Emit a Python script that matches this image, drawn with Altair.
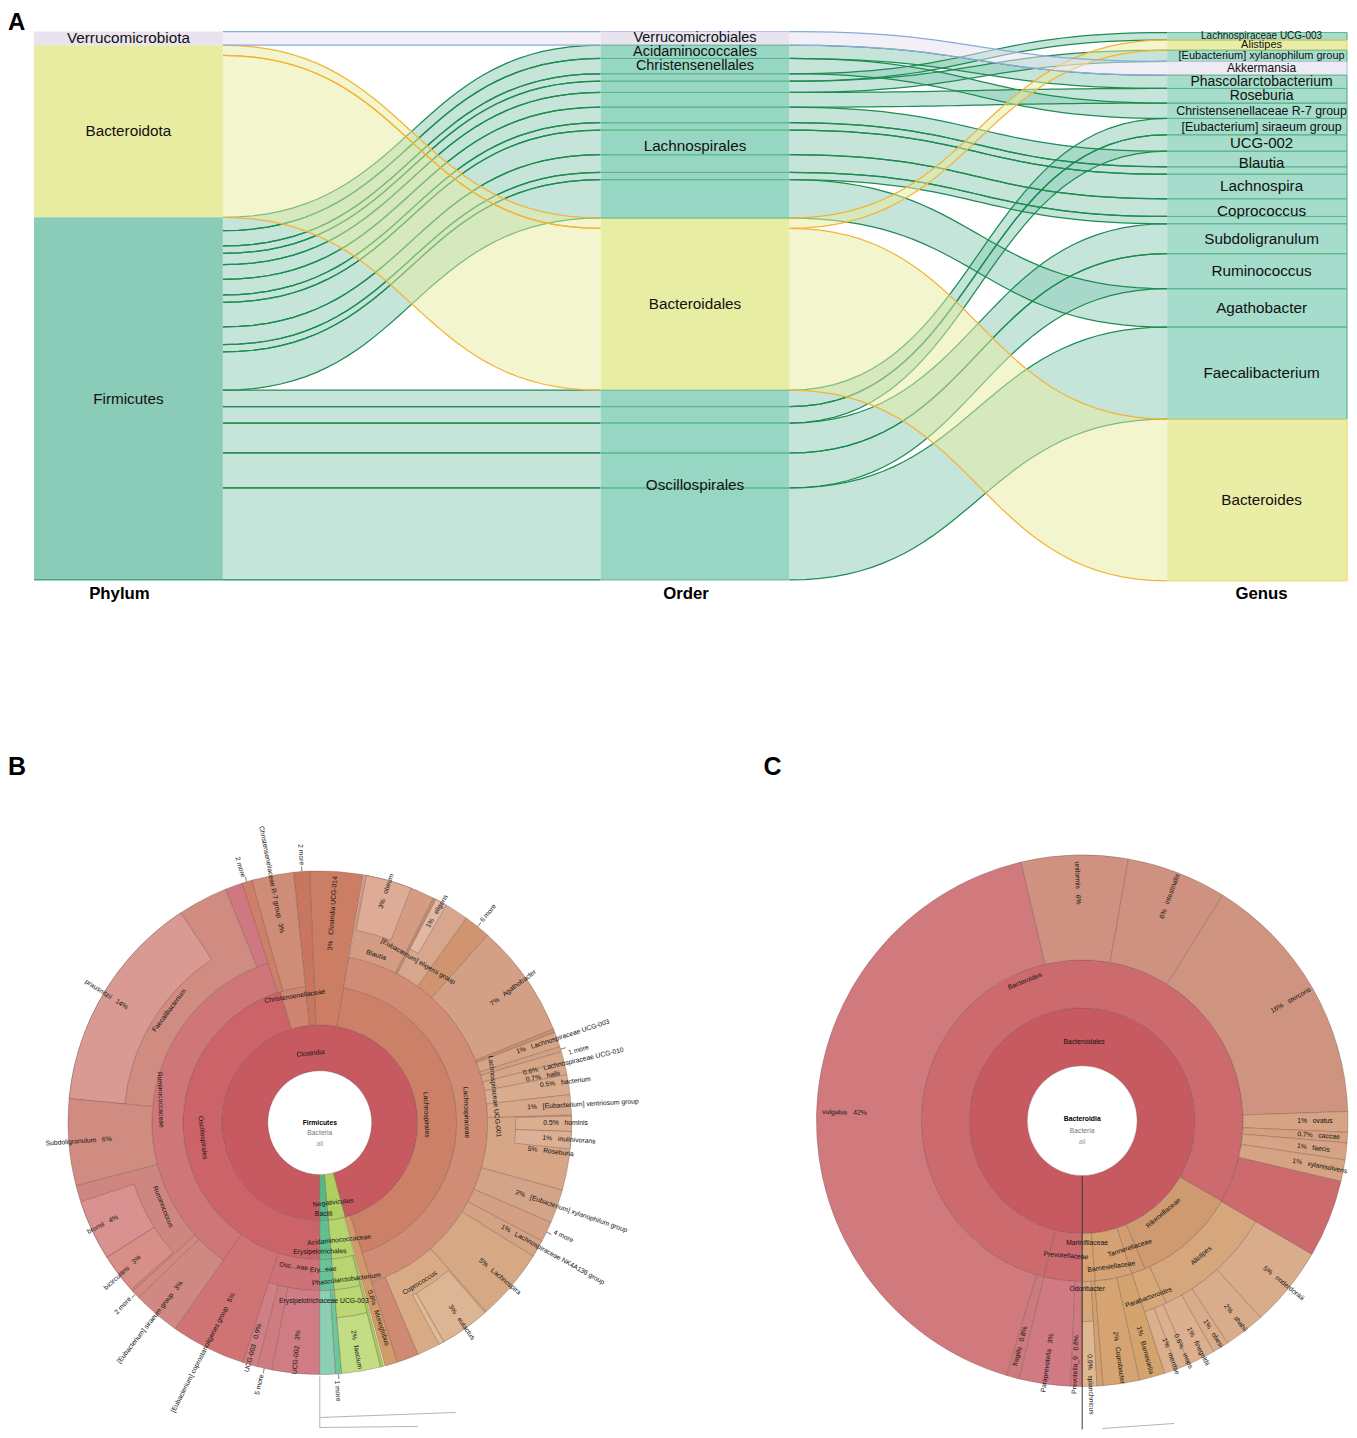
import altair as alt
import pandas as pd
import numpy as np

FONT = "Liberation Sans"

# ---------- Panel A: alluvial (phylum / order / genus, abundance units) ----------
FLOW_PHYLUM = ["Verrucomicrobiota", "Bacteroidota", "Bacteroidota"] + ["Firmicutes"] * 16
FLOW_ORDER = ["Verrucomicrobiales", "Bacteroidales", "Bacteroidales", "Acidaminococcales", "Christensenellales"] + \
             ["Lachnospirales"] * 9 + ["Oscillospirales"] * 5
FLOW_GENUS = ["Akkermansia", "Alistipes", "Bacteroides", "Phascolarctobacterium", "Christensenellaceae R-7 group",
              "Lachnospiraceae UCG-003", "[Eubacterium] xylanophilum group", "Roseburia", "Blautia", "Blautia",
              "Lachnospira", "Coprococcus", "Coprococcus", "Agathobacter",
              "[Eubacterium] siraeum group", "UCG-002", "Subdoligranulum", "Ruminococcus", "Faecalibacterium"]
FLOW_VALUE = [13.7, 10.3, 162.0, 13.3, 15.3, 7.4, 11.3, 14.7, 15.6, 7.4, 24.6, 17.7, 7.3, 38.4,
              16.4, 16.4, 30.0, 35.0, 92.0]
PHYLA = ["Verrucomicrobiota", "Bacteroidota", "Firmicutes"]
ORDERS = ["Verrucomicrobiales", "Acidaminococcales", "Christensenellales", "Lachnospirales", "Bacteroidales",
          "Oscillospirales"]
GENERA = ["Lachnospiraceae UCG-003", "Alistipes", "[Eubacterium] xylanophilum group", "Akkermansia",
          "Phascolarctobacterium", "Roseburia", "Christensenellaceae R-7 group", "[Eubacterium] siraeum group",
          "UCG-002", "Blautia", "Lachnospira", "Coprococcus", "Subdoligranulum", "Ruminococcus", "Agathobacter",
          "Faecalibacterium", "Bacteroides"]
PHYLUM_SIZE = [15.3, 15.3, 15.3]
ORDER_SIZE = [14.5, 14.5, 14.5, 15.3, 15.3, 15.3]
GENUS_SIZE = [10, 11, 11, 12, 14, 14, 12.4, 12.5, 15, 15, 15.3, 15.3, 15.3, 15.3, 15.3, 15.3, 15.3]
STAGES = ["Phylum", "Order", "Genus"]
STAGE_SHIFT = [-9, -9, 0]

KIND_NODE = {"Verrucomicrobiota": "v", "Bacteroidota": "b", "Firmicutes": "f"}
FILL = {"v": ["#e8e3ef", "#e8e3ef", "#eeeaf4"], "b": ["#e8eca0", "#e8eda4", "#e9eda6"], "f": ["#8bccb8", "#97d6c2", "#a5dccb"]}
LINK_FILL = {"v": "#e5e0ee", "b": "#e8eca0", "f": "#8bccb8"}
LINK_STROKE = {"v": "#8aa9dc", "b": "#f5b335", "f": "#1c8c50"}
EDGE = {"v": "#b4c4e4", "b": "#f4d468", "f": "#5cb888"}

flows = pd.DataFrame({"p": FLOW_PHYLUM, "o": FLOW_ORDER, "g": FLOW_GENUS, "v": FLOW_VALUE})
flows["kind"] = flows["p"].map(KIND_NODE)


def stack(col, order, start):
    top, bottom = {}, {}
    cur = start
    for name in order:
        for i in flows.index[flows[col] == name]:
            top[i] = cur
            cur += flows.loc[i, "v"]
            bottom[i] = cur
    return pd.Series(top), pd.Series(bottom)


tops = [stack("p", PHYLA, 0.0), stack("o", ORDERS, 0.0), stack("g", GENERA, 1.0)]
COLS = ["p", "o", "g"]
NODE_W = 1 / 3
GENUS_W = 180 / 567
NODE_WIDTHS = [NODE_W, NODE_W, GENUS_W]

link_rows = []
S = np.linspace(0, 1, 36)
BX = 1.5 * S * (1 - S) + S ** 3
BY = 3 * S ** 2 - 2 * S ** 3
for stage in (0, 1):
    for i in flows.index:
        a0, a1 = tops[stage][0][i], tops[stage][1][i]
        b0, b1 = tops[stage + 1][0][i], tops[stage + 1][1][i]
        for k, (bx, by) in enumerate(zip(BX, BY)):
            link_rows.append({"band": f"{stage}-{i}", "kind": flows.loc[i, "kind"], "k": k,
                              "x": stage + NODE_W + bx * (1 - NODE_W),
                              "y0": a0 + by * (b0 - a0), "y1": a1 + by * (b1 - a1)})
links = pd.DataFrame(link_rows)
edges = links.melt(id_vars=["band", "kind", "k", "x"], value_vars=["y0", "y1"], var_name="edge", value_name="y")
edges["id"] = edges["band"] + edges["edge"]

rect_rows, label_rows, hline_rows, vline_rows = [], [], [], []
for stage, (col, names, sizes) in enumerate(zip(COLS, [PHYLA, ORDERS, GENERA], [PHYLUM_SIZE, ORDER_SIZE, GENUS_SIZE])):
    nw = NODE_WIDTHS[stage]
    for name, size in zip(names, sizes):
        idx = flows.index[flows[col] == name]
        t, b = tops[stage][0][idx].min(), tops[stage][1][idx].max()
        kind = flows.loc[idx[0], "kind"]
        label_rows.append({"text": name, "x": stage + NODE_W / 2, "y": (t + b) / 2, "size": size})
        rect_rows.append({"x": stage, "x2": stage + nw, "y": t, "y2": b, "fill": FILL[kind][stage]})
        if stage == 0:
            if kind == "f":
                hline_rows.append({"x": stage, "x2": stage + nw, "y": b, "c": LINK_STROKE[kind]})
        elif kind != "b" or stage == 2:
            for i in idx:
                for yy in (tops[stage][0][i], tops[stage][1][i]):
                    hline_rows.append({"x": stage, "x2": stage + nw, "y": yy, "c": EDGE[kind]})
        if stage == 2:
            vline_rows.append({"x": stage + nw, "y": t, "y2": b, "c": EDGE[kind]})
rects = pd.DataFrame(rect_rows)
node_labels = pd.DataFrame(label_rows)
hlines = pd.DataFrame(hline_rows)
vlines = pd.DataFrame(vline_rows)

W_A, H_A = 1341, 735
xs_a = alt.Scale(domain=[-26 / 567, (W_A - 26) / 567], range=[0, W_A], nice=False, zero=False)
ys_a = alt.Scale(domain=[712, -23], nice=False, zero=False)
X_A = alt.X("x:Q", scale=xs_a, axis=None)

layers = []
for kind in ["f", "b", "v"]:
    layers.append(alt.Chart(links[links.kind == kind]).mark_area(
        fill=LINK_FILL[kind], fillOpacity=0.5, interpolate="linear"
    ).encode(x=X_A, y=alt.Y("y0:Q", scale=ys_a, axis=None), y2="y1:Q", detail="band:N"))
    layers.append(alt.Chart(edges[edges.kind == kind]).mark_line(
        color=LINK_STROKE[kind], strokeWidth=1.25, interpolate="linear"
    ).encode(x=X_A, y=alt.Y("y:Q", scale=ys_a, axis=None), detail="id:N", order="k:Q"))
layers.append(alt.Chart(rects).mark_rect().encode(
    x=X_A, x2="x2:Q", y=alt.Y("y:Q", scale=ys_a, axis=None), y2="y2:Q", fill=alt.Fill("fill:N", scale=None)))
layers.append(alt.Chart(hlines).mark_rule(strokeWidth=1).encode(
    x=X_A, x2="x2:Q", y=alt.Y("y:Q", scale=ys_a, axis=None), color=alt.Color("c:N", scale=None)))
layers.append(alt.Chart(vlines).mark_rule(strokeWidth=1.2).encode(
    x=X_A, y=alt.Y("y:Q", scale=ys_a, axis=None), y2="y2:Q", color=alt.Color("c:N", scale=None)))
layers.append(alt.Chart(node_labels).mark_text(font=FONT, color="#111").encode(
    x=X_A, y=alt.Y("y:Q", scale=ys_a, axis=None), text="text:N", size=alt.Size("size:Q", scale=None)))
for i, (stage, shift) in enumerate(zip(STAGES, STAGE_SHIFT)):
    layers.append(alt.Chart(pd.DataFrame({"text": [stage], "x": [i + NODE_W / 2], "y": [562.5]})).mark_text(
        font=FONT, fontWeight="bold", fontSize=16.8, color="#000", dx=shift
    ).encode(x=X_A, y=alt.Y("y:Q", scale=ys_a, axis=None), text="text:N"))
layers.append(alt.Chart(pd.DataFrame({"t": ["A"]})).mark_text(
    font=FONT, fontWeight="bold", fontSize=24, align="left", baseline="top"
).encode(x=alt.value(0), y=alt.value(2), text="t:N"))
panel_a = alt.layer(*layers).properties(width=W_A, height=H_A)

# ---------- Panels B and C: Krona charts ----------
RINGS_B = [52, 98, 137, 168, 196, 252]
B_CLASS = [("Clostridia", 180, 525, 0, 1, "#c65a60"), ("Negativicutes", 165, 175, 0, 1, "#aed061"),
           ("Bacilli", 175, 180, 0, 1, "#57b887")]
B_ORDER = [("Oscillospirales", 180, 343.3, 1, 2, "#cb6369"), ("Christensenellales", 343.3, 354, 1, 2, "#cf8470"),
           ("Lachnospirales", 10, 162, 1, 2, "#cc8067"), ("Monoglobus", 162, 165, 1, 5, "#d29a68"),
           ("Acidaminococcales", 165.3, 175, 1, 2, "#b4d46c"), ("Erysipelotrichales", 175, 180, 1, 2, "#62bf90"),
           ("Clostridia UCG-014", 357.7, 370, 1, 5, "#cc7e64"), ("2 more", 354, 357.7, 1, 5, "#c87660")]
B_OSC = [("Christensenellaceae R-7", 344.3, 354, 2, 5, "#cf8c76"), ("2 more", 342, 344.3, 2, 5, "#cd7f68"),
         ("Ruminococcaceae", 215, 342, 2, 3, "#cf7678"), ("strip", 338, 342, 3, 5, "#d07880"),
         ("Oscillospiraceae", 180, 197.7, 2, 3, "#cd7277"), ("coprostanoligenes", 197.7, 215.1, 2, 5, "#cf7375"),
         ("Faecalibacterium", 275.5, 338, 3, 5, "#d08c80"), ("prausnitzii", 275.5, 326.5, 4, 5, "#d89a92"),
         ("Subdoligranulum", 255.5, 275.5, 3, 5, "#d08c80"), ("Ruminococcus", 227.6, 255.5, 3, 5, "#d08680"),
         ("bromii", 237.7, 251.7, 4, 5, "#d99290"), ("bicirculans", 228.5, 237.7, 4, 5, "#d78f88"),
         ("2 more", 226, 228, 3, 5, "#d18a80"), ("siraeum", 215.1, 226, 3, 5, "#d08882"),
         ("UCG-002", 180, 191, 3, 5, "#d07c84"), ("5 more", 191, 194.4, 3, 5, "#cf7c80"),
         ("UCG-003", 194.4, 197.7, 3, 5, "#d08084")]
B_GREEN = [("Erysipelotrichaceae", 175, 180, 2, 3, "#68c498"), ("Erysipelotrichaceae UCG-003", 176.4, 180, 3, 5, "#8ccfb5"),
           ("1 more", 175, 176.4, 3, 5, "#6cc79a"), ("Acidaminococcaceae", 166, 175, 2, 3, "#b8d670"),
           ("Phascolarctobacterium", 166, 175, 3, 4, "#bcd874"), ("faecium", 166, 175, 4, 5, "#c2dd84"),
           ("strip", 165.3, 166, 2, 5, "#a8d050")]
B_LACHNO = [("Lachnospiraceae", 10, 162, 2, 3, "#d08c74"), ("strip", 157, 162, 3, 5, "#cf8a74"),
            ("Coprococcus", 138.6, 157, 3, 5, "#d8ab84"), ("eutactus", 139, 150.5, 4, 5, "#dcb594"),
            ("strip", 150.5, 151.7, 4, 5, "#dfbb98"), ("Lachnospira", 122, 138.6, 3, 5, "#d6a884"),
            ("NK4A136", 118, 122, 3, 5, "#d4a284"), ("4 more", 113.3, 118, 3, 5, "#d59f84"),
            ("xylanophilum", 105.5, 113.3, 3, 5, "#d4a488"), ("Roseburia", 88.2, 105.5, 3, 5, "#d6a686"),
            ("hominis", 88.5, 92, 4, 5, "#dbae90"), ("inulinivorans", 92, 96, 4, 5, "#dcb094"),
            ("strip", 68.1, 69, 3, 5, "#c8906f"), ("UCG-003", 69, 72.4, 3, 5, "#d6a586"),
            ("1 more", 72.4, 73.6, 3, 5, "#d4a084"), ("UCG-010", 73.6, 76, 3, 5, "#d6a586"),
            ("hallii", 76, 79, 3, 5, "#d8a88a"), ("bacterium", 79, 83.6, 3, 5, "#daac8e"),
            ("ventriosum", 83.6, 88.2, 3, 5, "#d8a88a"), ("Agathobacter", 41.8, 68.1, 3, 5, "#d4a085"),
            ("6 more", 35.6, 41.8, 3, 5, "#d09470"), ("eligens group", 27.4, 35.6, 3, 5, "#d8a68c"),
            ("eligens", 27.4, 30.2, 4, 5, "#e0b8a4"), ("strip", 26.8, 27.4, 3, 5, "#c8906f"),
            ("Blautia", 10.2, 26.8, 3, 5, "#d49c82"), ("obeum", 10.7, 21.3, 4, 5, "#deac96")]

B_LABELS = [
    ("Clostridia", 352.4, 70, -6), ("Lachnospirales", 85.7, 107, 88), ("Lachnospiraceae", 86, 147, 88),
    ("Lachnospiraceae UCG-001", 81.5, 177, 84), ("Christensenellaceae", 348.8, 129, -9),
    ("Oscillospirales", 262.7, 118, 84), ("Ruminococcaceae", 278.2, 161, 88), ("Faecalibacterium", 306.7, 188, -53),
    ("Subdoligranulum  6%", 265.6, 242, -4), ("prausnitzii  14%", 301, 249, 33), ("Ruminococcus", 241.8, 178, 68),
    ("bromii  4%", 244.9, 240, -27), ("bicirculans  3%", 232.8, 248, -43), ("2 more", 227.1, 269, -48),
    ("[Eubacterium] siraeum group  3%", 220.4, 262, -52),
    ("[Eubacterium] coprostanoligenes group  5%", 206.9, 258, -63), ("UCG-003  0.9%", 196.5, 235, -75),
    ("5 more", 193, 269, -77), ("UCG-002  3%", 185.8, 231, -85), ("Osc...eae", 190.3, 146, 8),
    ("Ery...eae", 178.7, 147, -3), ("Negativicutes", 170.5, 81, -6), ("Bacilli", 177.5, 91, 0),
    ("Acidaminococcaceae", 170.6, 119, -6), ("Erysipelotrichales", 180, 129, -1),
    ("Phascolarctobacterium", 170.4, 159, -7), ("Erysipelotrichaceae UCG-003", 178.7, 178, 0),
    ("2%  faecium", 170.8, 230, 80), ("1 more", 176.2, 269, 87), ("0.8%  Monoglobus", 163.3, 204, 72),
    ("Coprococcus", 148, 189, -32), ("3%  eutactus", 144.6, 245, 55), ("5%  Lachnospira", 130.5, 237, 40),
    ("1%  Lachnospiraceae NK4A136 group", 119.5, 268, 29), ("4 more", 115, 269, 25),
    ("2%  [Eubacterium] xylanophilum group", 109.4, 267, 19), ("5%  Roseburia", 97.1, 233, 7),
    ("1%  inulinivorans", 93.9, 250, 4), ("0.5%  hominis", 90, 246, 0),
    ("1%  [Eubacterium] ventriosum group", 86, 264, -3), ("0.5%  bacterium", 80.6, 249, -7),
    ("0.7%  hallii", 78.3, 228, -11), ("0.6%  Lachnospiraceae UCG-010", 76.4, 261, -13), ("1 more", 74.3, 269, -16),
    ("1%  Lachnospiraceae UCG-003", 70.5, 258, -18), ("7%  Agathobacter", 55.1, 236, -37), ("6 more", 38.8, 269, -50),
    ("1%  eligens", 29, 242, -60), ("3%  obeum", 16, 241, -72), ("Blautia", 18.6, 177, 18),
    ("[Eubacterium] eligens group", 31.4, 189, 30), ("3%  Clostridia UCG-014", 3.5, 210, -86),
    ("2 more", 342.7, 268, 73), ("Christensenellaceae R-7 group  3%", 348.8, 248, 79), ("2 more", 356, 269, 86),
]
B_TICKS = [343.1, 355.9, 38.8, 73, 115.7, 192.7, 227, 175.7]

RINGS_C = [55, 113, 161, 201, 266]
C_CORE = [("Bacteroidales", 180, 540, 0, 1, "#c65a60"), ("Bacteroidaceae", 193.7, 480, 1, 2, "#cc6a6e"),
          ("Prevotellaceae", 180, 193.7, 1, 2, "#cc6a70"), ("Marinifilaceae", 175.3, 180, 1, 2, "#d6a274"),
          ("Barnesiellaceae", 162, 175.3, 1, 2, "#d6a274"), ("Tannerellaceae", 157, 162, 1, 2, "#d49c72"),
          ("Rikenellaceae", 120, 157, 1, 2, "#d09a70")]
C_BACT = [("vulgatus", 196.5, 346.7, 2, 4, "#d07a7e"), ("uniformis", 346.7, 370, 2, 4, "#cf9280"),
          ("intestinalis", 10, 31.9, 2, 4, "#cf9280"), ("stercoris", 31.9, 88, 2, 4, "#cf9480"),
          ("ovatus", 88, 92.5, 2, 4, "#d6a484"), ("caccae", 92.5, 94.8, 2, 4, "#d4a080"),
          ("faecis", 94.8, 98.5, 2, 4, "#d6a484"), ("xylanisolvens", 98.5, 103.2, 2, 4, "#d6a484"),
          ("strip", 103.2, 120.2, 2, 4, "#cc6a6e"), ("fragilis", 193.7, 196.5, 2, 4, "#cd7a7e"),
          ("Paraprevotella", 182.5, 193.7, 2, 4, "#d07a84"), ("Prevotella_9", 180, 182.5, 2, 4, "#d07a80")]
C_OTHER = [("Odoribacter", 176.8, 180, 2, 3, "#d8a878"), ("splanchnicus", 176.8, 180, 3, 4, "#ddb890"),
           ("strip", 175.5, 176.8, 2, 4, "#d4a070"), ("Coprobacter", 167.5, 175.5, 2, 4, "#d6a472"),
           ("Barnesiella", 161.9, 167.5, 2, 4, "#d4a46f"), ("Parabacteroides", 155.2, 161.9, 2, 3, "#d8a878"),
           ("merdae", 159, 161.9, 3, 4, "#dcb08c"), ("inops", 156.2, 159, 3, 4, "#dcb08c"),
           ("Alistipes", 120.2, 155.2, 2, 3, "#d6a67c"), ("finegoldii", 150.3, 156.2, 3, 4, "#dcb08e"),
           ("obesi", 146.8, 150.3, 3, 4, "#d9ac8a"), ("shahii", 137.8, 146.8, 3, 4, "#d9ac8c"),
           ("onderdonkii", 120.2, 137.8, 3, 4, "#d9ac8c")]
C_LABELS = [
    ("Bacteroidales", 1.4, 79, 0), ("Bacteroides", 337.7, 151, -22), ("vulgatus  42%", 272, 238, 1),
    ("uniformis  6%", 358.9, 238, 88), ("6%  intestinalis", 21.3, 241, -70), ("16%  stercoris", 60, 241, -30),
    ("1%  ovatus", 90, 233, 0), ("0.7%  caccae", 93.6, 237, 4), ("1%  faecis", 96.7, 233, 7),
    ("1%  xylanisolvens", 100.8, 242, 11), ("5%  onderdonkii", 128.9, 259, 39), ("2%  shahii", 142.1, 250, 52),
    ("1%  obesi", 148.4, 250, 58), ("1%  finegoldii", 152.8, 254, 63), ("0.6%  inops", 156.3, 252, 66),
    ("1%  merdae", 159.4, 252, 70), ("1%  Barnesiella", 164.7, 238, 75), ("2%  Coprobacter", 171.2, 240, 82),
    ("0.9%  splanchnicus", 178.2, 264, 88), ("Prevotella_9  0.8%", 181.6, 244, -88),
    ("Paraprevotella  3%", 188.2, 245, -82), ("fragilis  0.8%", 195.4, 234, -75), ("Odoribacter", 178.3, 168, 0),
    ("Parabacteroides", 159.4, 189, -20), ("Alistipes", 138.6, 180, -41), ("Barnesiellaceae", 168.7, 149, -8),
    ("Tannerellaceae", 159.5, 136, -18), ("Rikenellaceae", 138.7, 123, -40), ("Marinifilaceae", 177.7, 122, 0),
    ("Prevotellaceae", 186.8, 136, 4),
]

H_K = 687
B_GUIDES = [("v", 312, 634), ("v", 312, 685), ("a", 312, 675), ("a", 448, 670), ("b", 312, 685), ("b", 410, 684)]
C_GUIDES = [("h", 341, 686), ("h", 413, 681)]
C_AXIS = [("v", 321, 433), ("v", 321, 687)]

theta_scale = alt.Scale(domain=[0, 360], range=[0, 2 * np.pi], nice=False, zero=False)
radius_scale = alt.Scale(type="linear", domain=[0, 300], range=[0, 300], nice=False)


def krona(wedges, rings, labels, ticks, cx, cy, W, H, center, letter, letter_x, guides, dark):
    wrows = [{"name": n, "a": a, "b": b, "r0": rings[i0], "r1": rings[i1], "c": c} for n, a, b, i0, i1, c in wedges]
    arc = alt.Chart(pd.DataFrame(wrows)).mark_arc(stroke="#6b4a44", strokeWidth=0.5, strokeOpacity=0.65).encode(
        x=alt.value(cx), y=alt.value(cy),
        theta=alt.Theta("a:Q", scale=theta_scale, stack=None), theta2="b:Q",
        radius=alt.Radius("r1:Q", scale=radius_scale), radius2="r0:Q",
        fill=alt.Fill("c:N", scale=None))
    layers_k = [arc]
    if ticks:
        trows = [{"a": t, "b": t + 0.08, "r0": rings[-1], "r1": rings[-1] + 5} for t in ticks]
        layers_k.append(alt.Chart(pd.DataFrame(trows)).mark_arc(stroke="#888", strokeWidth=0.6, fill="#888").encode(
            x=alt.value(cx), y=alt.value(cy),
            theta=alt.Theta("a:Q", scale=theta_scale, stack=None), theta2="b:Q",
            radius=alt.Radius("r1:Q", scale=radius_scale), radius2="r0:Q"))
    gdf = pd.DataFrame(guides, columns=["id", "x", "y"])
    xs = alt.Scale(domain=[0, W], range=[0, W], nice=False, zero=False)
    ys = alt.Scale(domain=[H, 0], nice=False, zero=False)
    layers_k.append(alt.Chart(gdf).mark_line(color="#aaaaaa", strokeWidth=0.9).encode(
        x=alt.X("x:Q", scale=xs, axis=None), y=alt.Y("y:Q", scale=ys, axis=None), detail="id:N", order="y:Q"))
    if dark:
        ddf = pd.DataFrame(dark, columns=["id", "x", "y"])
        layers_k.append(alt.Chart(ddf).mark_line(color="#3a3a3a", strokeWidth=1).encode(
            x=alt.X("x:Q", scale=xs, axis=None), y=alt.Y("y:Q", scale=ys, axis=None), detail="id:N", order="y:Q"))
    lrows = [{"t": t.replace("  ", "\u00a0\u00a0\u00a0"), "a": a % 360, "r": r, "rot": rot} for t, a, r, rot in labels]
    layers_k.append(alt.Chart(pd.DataFrame(lrows)).mark_text(font=FONT, fontSize=6.8, color="#111").encode(
        x=alt.value(cx), y=alt.value(cy),
        theta=alt.Theta("a:Q", scale=theta_scale, stack=None),
        radius=alt.Radius("r:Q", scale=radius_scale),
        angle=alt.Angle("rot:Q", scale=None), text="t:N"))
    for txt, dy, col, weight in center:
        layers_k.append(alt.Chart(pd.DataFrame({"t": [txt]})).mark_text(
            font=FONT, fontSize=6.8, color=col, fontWeight=weight
        ).encode(x=alt.value(cx), y=alt.value(cy + dy), text="t:N"))
    layers_k.append(alt.Chart(pd.DataFrame({"t": [letter]})).mark_text(
        font=FONT, fontWeight="bold", fontSize=25, align="left", baseline="alphabetic"
    ).encode(x=alt.value(letter_x), y=alt.value(32), text="t:N"))
    return alt.layer(*layers_k).properties(width=W, height=H)


B_ALL = B_CLASS + B_ORDER + B_OSC + B_GREEN + B_LACHNO
C_ALL = C_CORE + C_BACT + C_OTHER
CENTER_B = [("Firmicutes", 0, "#000", "bold"), ("Bacteria", 10, "#777", "normal"), ("all", 21, "#999", "normal")]
CENTER_C = [("Bacteroidia", -2, "#000", "bold"), ("Bacteria", 10, "#777", "normal"), ("all", 21, "#999", "normal")]

panel_b = krona(B_ALL, RINGS_B, B_LABELS, B_TICKS, 312, 380, 754, H_K, CENTER_B, "B", 0, B_GUIDES, None)
panel_c = krona(C_ALL, RINGS_C, C_LABELS, [], 321, 378, 587, H_K, CENTER_C, "C", 2, C_GUIDES, C_AXIS)

chart = alt.vconcat(
    panel_a,
    alt.hconcat(panel_b, panel_c, spacing=0, bounds="flush"),
    spacing=0, bounds="flush"
).properties(padding=0, background="white").configure_view(stroke=None)

chart.save("out.html", embed_options={"renderer": "svg", "actions": False})
